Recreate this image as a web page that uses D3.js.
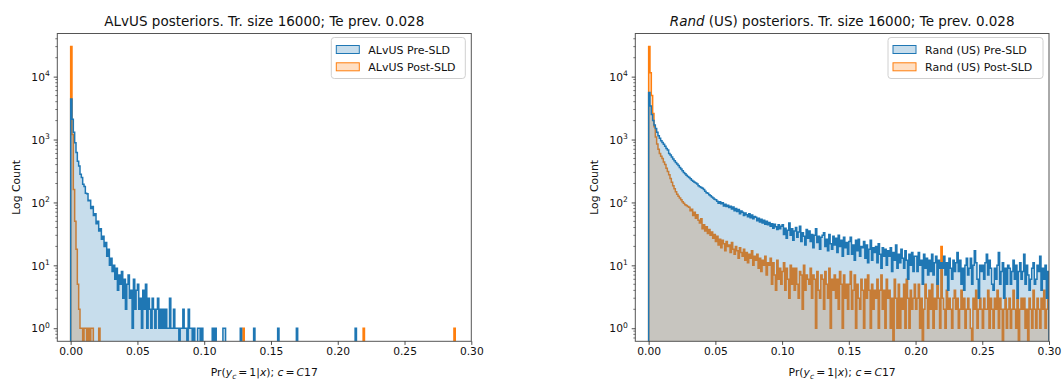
<!DOCTYPE html>
<html><head><meta charset="utf-8">
<script src="https://cdn.jsdelivr.net/npm/d3@7"></script>
<style>
body{margin:0;background:#fff}
svg{display:block}
text{font-family:"DejaVu Sans",sans-serif;fill:#111}
</style>
</head><body>
<svg id="c" width="1062" height="379"></svg>
<script>
// ---------------- data ----------------
const binWidth = 0.001;
const xTicks = [0, 0.05, 0.10, 0.15, 0.20, 0.25, 0.30];
const xTickLabels = ["0.00", "0.05", "0.10", "0.15", "0.20", "0.25", "0.30"];
const yTicks = [1, 10, 100, 1000, 10000];
const yTickExponents = ["0", "1", "2", "3", "4"];

// Left panel: ALvUS (dense part, bins of 0.001 starting at 0)
const leftPreCounts = [
 4400,2100,1300,890,620,450,380,280,250,195,
 180,140,138,106,108,80,86,62,66,46,
 50,35,38,26,29,20,23,14,18,10,
 13,8,10,6,9,4,7,5,8,3,
 6,2,5,7,3,4,1,6,2,4,
 5,2,3,1,4,2,5,1,3,2,
 1,3,2,1,2,3,1,2,1,2,
 1,2,1,1,3,1,1,2,1,1,
 1,0,1,1,2,1,1,0,2,1,
 1,0,1,0,0,1,1,0,1,0
];
// isolated far bins (left edge of bin) and their counts
const leftPreTailBins = [0.106, 0.108, 0.114, 0.115, 0.127, 0.137, 0.155, 0.169, 0.213];
const leftPreTailCounts = [1, 1, 1, 1, 1, 1, 1, 1, 1];

const leftPostCounts = [
 30000,1200,160,50,18,5,2,1,1,0,
 1,1,0,1,0,1,1,0,0,0,
 0,1
];
const leftPostTailBins = [0.129, 0.219, 0.287];
const leftPostTailCounts = [1, 1, 1];

// Right panel: Rand (US)
const rightPreCounts = [
 5600,3400,2500,2000,1700,1500,1300,1150,1050,960,
 900,840,780,720,680,600,570,530,490,460,
 430,410,385,360,340,318,300,285,270,258,
 250,238,225,218,210,204,196,185,178,172,
 168,160,150,142,140,132,128,122,118,112,
 110,104,97,103,95,99,88,94,86,90,
 83,87,79,85,74,80,72,77,66,73,
 70,62,68,64,59,66,57,63,55,60,
 58,51,56,49,54,47,52,45,50,44,
 48,42,46,39,45,41,37,44,38,42,
 44,31,39,27,36,47,30,38,25,35,
 40,28,34,42,24,33,29,21,37,27,
 35,24,31,19,30,38,23,29,18,28,
 30,33,20,26,17,31,22,18,29,21,
 27,16,30,20,25,14,28,19,23,15,
 24,28,15,21,12,25,17,26,14,20,
 19,24,13,21,11,18,25,12,19,16,
 20,11,22,15,9,19,14,18,10,17,
 14,19,8,16,12,21,9,15,11,18,
 13,9,17,12,6,15,10,16,8,14,
 14,8,16,10,12,5,15,9,13,7,
 12,8,15,7,11,14,5,12,9,11,
 9,14,7,11,4,13,9,6,12,8,
 11,16,8,12,5,9,4,10,13,7,
 9,13,5,10,17,11,6,3,10,8,
 10,6,11,15,7,12,9,5,4,9,
 6,10,16,5,8,11,3,9,5,10,
 9,5,8,12,6,10,3,8,11,6,
 8,15,5,10,7,4,6,9,11,5,
 6,10,8,14,4,9,6,10,3,8
];
const rightPostCounts = [
 30000,11500,5000,2600,1600,1100,850,700,600,540,
 500,440,400,350,310,275,240,210,185,165,
 148,135,125,118,110,103,97,92,89,86,
 84,74,78,62,70,56,64,52,47,55,
 38,44,35,41,32,37,30,34,27,31,
 24,29,21,26,19,25,22,17,24,20,
 21,16,23,18,15,20,17,13,19,16,
 14,18,12,16,11,15,13,17,10,14,
 12,15,9,13,8,12,10,14,7,11,
 10,13,5,11,7,4,12,6,9,5,
 8,11,4,9,6,3,10,5,9,4,
 9,5,3,8,7,2,10,4,7,6,
 5,9,3,7,6,1,8,4,3,7,
 6,2,8,5,3,9,1,6,4,7,
 3,6,2,8,5,1,7,3,5,2,
 5,8,2,4,7,1,5,3,2,6,
 4,1,6,3,7,4,1,5,2,4,
 3,6,1,4,7,2,4,1,6,3,
 4,1,3,0,6,3,1,5,1,3,
 2,5,1,6,3,1,4,2,3,5,
 2,3,5,1,3,0,2,5,3,1,
 4,2,5,1,3,2,6,3,1,20,
 3,2,1,4,2,3,2,1,3,4,
 2,3,1,2,4,2,3,1,2,3,
 2,1,0,3,2,4,1,2,3,2,
 1,3,2,2,4,1,3,2,1,3,
 2,4,1,3,2,0,2,3,1,2,
 3,1,2,4,2,1,3,0,2,3,
 2,3,1,2,0,3,2,1,4,2,
 1,3,2,1,3,2,4,1,2,3
];

// ---------------- build full histograms ----------------
function withTail(dense, tailBins, tailCounts) {
  const arr = dense.slice();
  tailBins.forEach((b, i) => {
    const idx = Math.round(b / binWidth);
    while (arr.length <= idx) arr.push(0);
    arr[idx] += tailCounts[i];
  });
  return arr;
}
const leftPre = withTail(leftPreCounts, leftPreTailBins, leftPreTailCounts);
const leftPost = withTail(leftPostCounts, leftPostTailBins, leftPostTailCounts);

const BLUE = "#1f77b4", ORANGE = "#ff7f0e";
const FS_TICK = 10.7, FS_LABEL = 10.8, FS_TITLE = 13.5, FS_LEG = 11;

const panels = [
  { left: 57.3, right: 471.3, top: 33.5, bottom: 341.3,
    titleItalic: "", titleRest: "ALvUS posteriors. Tr. size 16000; Te prev. 0.028",
    preLabel: "ALvUS Pre-SLD", postLabel: "ALvUS Post-SLD",
    pre: leftPre, post: leftPost, legendW: 134 },
  { left: 635.3, right: 1049, top: 33.5, bottom: 341.3,
    titleItalic: "Rand", titleRest: " (US) posteriors. Tr. size 16000; Te prev. 0.028",
    preLabel: "Rand (US) Pre-SLD", postLabel: "Rand (US) Post-SLD",
    pre: rightPreCounts, post: rightPostCounts, legendW: 155 }
];

const svg = d3.select("#c");
const defs = svg.append("defs");

panels.forEach((p, pi) => {
  const x = d3.scaleLinear().domain([-0.01, 0.30]).range([p.left, p.right]);
  const y = d3.scaleLog().domain([0.62, 48500]).range([p.bottom, p.top]);
  const g = svg.append("g");
  const clipId = "clip" + pi;
  defs.append("clipPath").attr("id", clipId).append("rect")
    .attr("x", p.left).attr("y", p.top)
    .attr("width", p.right - p.left).attr("height", p.bottom - p.top);

  const yb = p.bottom + 30;
  function stepPath(counts) {
    let d = `M${x(0)},${yb}`;
    counts.forEach((c, i) => {
      const yy = c > 0 ? y(c) : yb;
      d += `L${x(i * binWidth)},${yy}L${x((i + 1) * binWidth)},${yy}`;
    });
    d += `L${x(counts.length * binWidth)},${yb}Z`;
    return d;
  }
  const plot = g.append("g").attr("clip-path", `url(#${clipId})`);
  // post drawn first, pre on top (layered)
  [[p.post, ORANGE], [p.pre, BLUE]].forEach(([counts, col]) => {
    plot.append("path").attr("d", stepPath(counts))
      .attr("fill", col).attr("fill-opacity", 0.25)
      .attr("stroke", col).attr("stroke-width", 1.5)
      .attr("stroke-linejoin", "miter");
  });

  // frame
  g.append("rect").attr("x", p.left).attr("y", p.top)
    .attr("width", p.right - p.left).attr("height", p.bottom - p.top)
    .attr("fill", "none").attr("stroke", "#555").attr("stroke-width", 1);

  // x axis ticks
  const xa = g.append("g").attr("transform", `translate(0,${p.bottom})`)
    .call(d3.axisBottom(x).tickValues(xTicks).tickSize(3.6).tickPadding(3)
      .tickFormat((d, i) => xTickLabels[i]));
  xa.select(".domain").remove();
  xa.selectAll("line").attr("stroke", "#222").attr("stroke-width", 0.8);
  xa.selectAll("text").style("font-size", FS_TICK + "px").attr("fill", "#111")
    .style("font-family", '"DejaVu Sans",sans-serif');

  // y axis major ticks
  const ya = g.append("g").attr("transform", `translate(${p.left},0)`)
    .call(d3.axisLeft(y).tickValues(yTicks).tickSize(3.6).tickFormat(""));
  ya.select(".domain").remove();
  ya.selectAll("line").attr("stroke", "#222").attr("stroke-width", 0.8);
  // minor ticks
  const minors = [];
  for (let k = -1; k <= 4; k++) for (let m = 2; m <= 9; m++) {
    const v = m * Math.pow(10, k);
    if (v >= 0.62 && v <= 48500) minors.push(v);
  }
  g.append("g").selectAll("line").data(minors).join("line")
    .attr("x1", p.left - 2).attr("x2", p.left)
    .attr("y1", d => y(d)).attr("y2", d => y(d))
    .attr("stroke", "#222").attr("stroke-width", 0.6);
  // y tick labels 10^k
  yTicks.forEach((v, i) => {
    const t = g.append("text").attr("x", p.left - 7.5).attr("y", y(v) + 4.2)
      .attr("text-anchor", "end").style("font-size", FS_TICK + "px");
    t.append("tspan").text("10");
    t.append("tspan").attr("dy", -4.8).style("font-size", "7.6px").text(yTickExponents[i]);
  });

  // y label
  g.append("text").attr("transform", `translate(${p.left - 37},${(p.top + p.bottom) / 2}) rotate(-90)`)
    .attr("text-anchor", "middle").style("font-size", FS_LABEL + "px").text("Log Count");

  // x label (mathtext-like)
  const xl = g.append("text").attr("x", (p.left + p.right) / 2).attr("y", 376)
    .attr("text-anchor", "middle").style("font-size", FS_LABEL + "px");
  xl.append("tspan").text("Pr(");
  xl.append("tspan").style("font-style", "italic").text("y");
  xl.append("tspan").style("font-style", "italic").style("font-size", "7.6px").attr("dy", 2.5).text("c");
  xl.append("tspan").attr("dy", -2.5).attr("dx", 2).text("=");
  xl.append("tspan").attr("dx", 2).text("1|");
  xl.append("tspan").style("font-style", "italic").text("x");
  xl.append("tspan").text("); ");
  xl.append("tspan").style("font-style", "italic").text("c");
  xl.append("tspan").attr("dx", 2).text("=");
  xl.append("tspan").attr("dx", 2).style("font-style", "italic").text("C");
  xl.append("tspan").text("17");

  // title
  const tt = g.append("text").attr("x", (p.left + p.right) / 2).attr("y", 26)
    .attr("text-anchor", "middle").style("font-size", FS_TITLE + "px");
  if (p.titleItalic) tt.append("tspan").style("font-style", "italic").text(p.titleItalic);
  tt.append("tspan").text(p.titleRest);

  // legend
  const lx = p.right - 6 - p.legendW, ly = p.top + 4;
  const lg = g.append("g");
  lg.append("rect").attr("x", lx).attr("y", ly).attr("width", p.legendW).attr("height", 41)
    .attr("rx", 3).attr("fill", "#fff").attr("fill-opacity", 0.8)
    .attr("stroke", "#d0d0d0").attr("stroke-width", 1);
  [[p.preLabel, BLUE], [p.postLabel, ORANGE]].forEach(([lab, col], i) => {
    const cy = ly + 12 + i * 17.3;
    lg.append("rect").attr("x", lx + 5).attr("y", cy - 4).attr("width", 23).attr("height", 8)
      .attr("fill", col).attr("fill-opacity", 0.25).attr("stroke", col).attr("stroke-width", 1);
    lg.append("text").attr("x", lx + 37).attr("y", cy + 4)
      .style("font-size", FS_LEG + "px").text(lab);
  });
});
</script>
</body></html>
